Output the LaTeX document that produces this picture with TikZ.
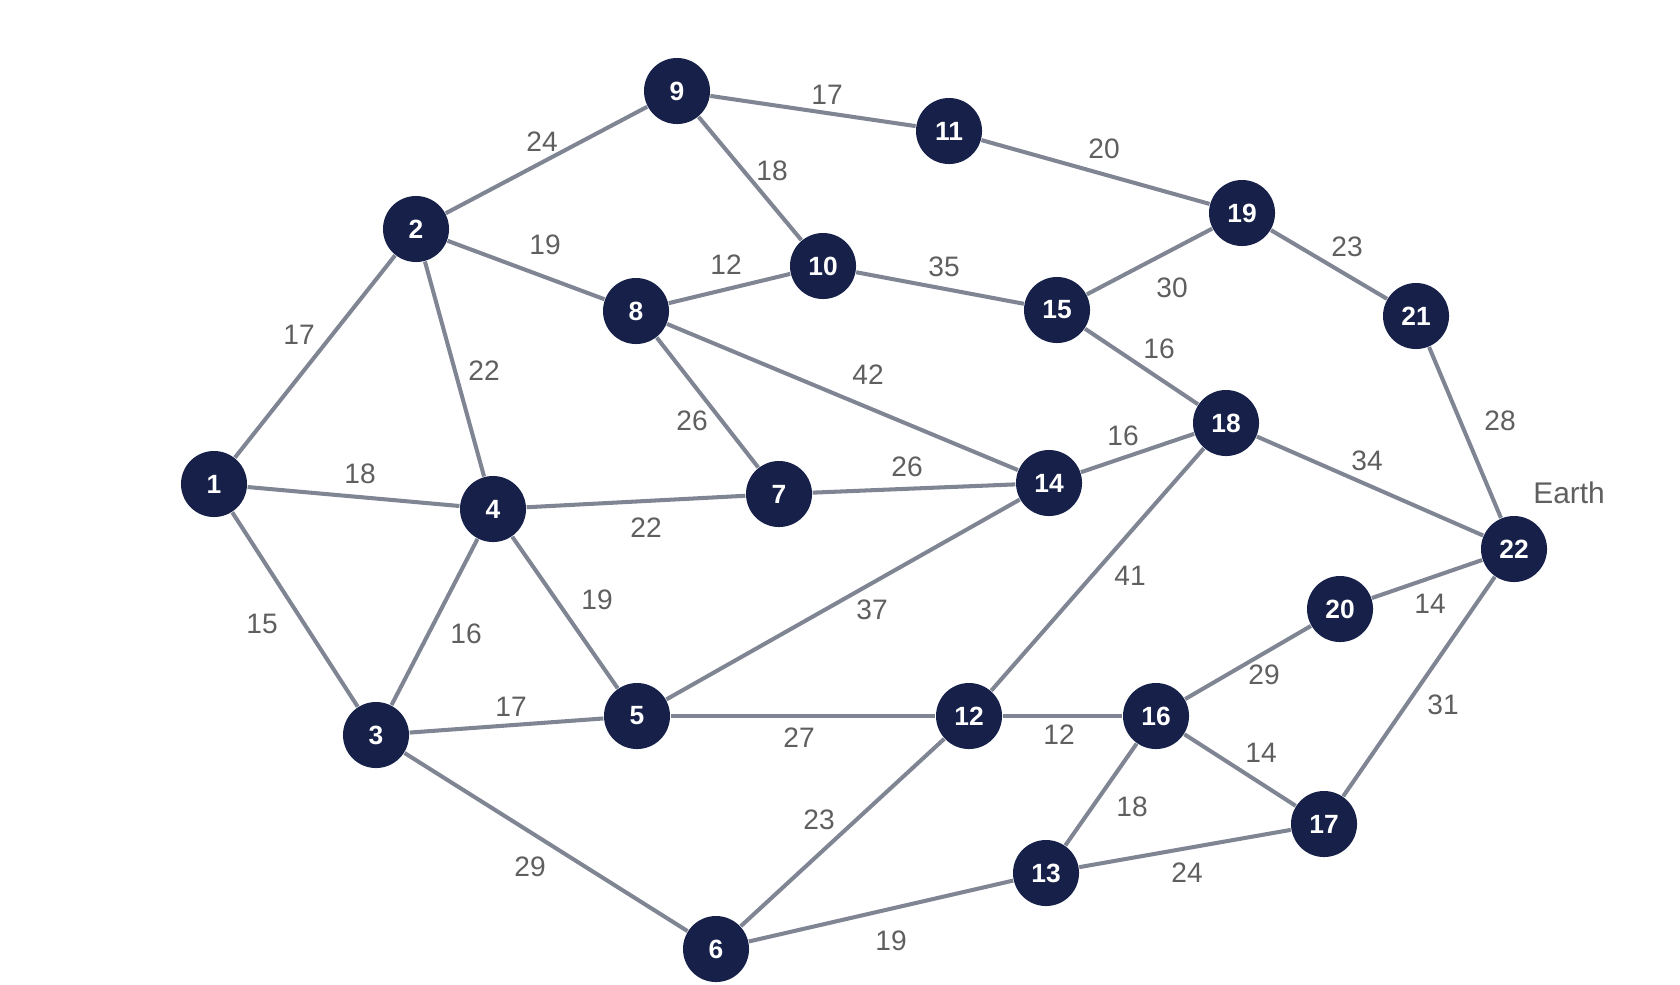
\documentclass[tikz,border=0pt]{standalone}
\usepackage{fontspec}
\setmainfont{Liberation Sans}
\usepackage{tikz}
\definecolor{nodenavy}{RGB}{22,32,72}
\definecolor{edgegray}{RGB}{128,133,148}
\definecolor{labelgray}{RGB}{95,95,95}
\tikzset{station/.style={circle,fill=nodenavy,text=white,minimum size=0.66cm,inner sep=0pt,
   font=\fontsize{7.5}{9}\selectfont\bfseries},
 link/.style={edgegray,line width=1.15pt},
 weight/.style={text=labelgray,font=\fontsize{8}{9}\selectfont,inner sep=1pt}}

\begin{document}
\begin{tikzpicture}[x=0.01cm,y=-0.01cm]
\useasboundingbox (0,0) rectangle (1680,984);
% stations
\foreach \n/\x/\y in {1/214/484,2/416/229,3/376/735,4/493/509,5/637/716,6/716/949,
  7/779/494,8/636/311,9/677/91,10/823/266,11/949/131,12/969/716,13/1046/873,
  14/1049/483,15/1057/310,16/1156/716,17/1324/824,18/1226/423,19/1242/213,
  20/1340/609,21/1416/316,22/1514/549}
  \node[station] (s\n) at (\x,\y) {\n};
% links with their weights
\foreach \a/\b/\w/\x/\y in {1/2/17/299/335,1/4/18/360/474,1/3/15/262/624,
  2/9/24/542/142,2/8/19/545/245,2/4/22/484/371,9/11/17/827/95,9/10/18/772/171,
  11/19/20/1104/149,8/10/12/726/265,10/15/35/944/267,19/15/30/1172/288,
  19/21/23/1347/247,8/7/26/692/421,8/14/42/868/375,15/18/16/1159/349,
  21/22/28/1500/421,14/18/16/1123/436,18/22/34/1367/461,4/7/22/646/528,
  7/14/26/907/467,4/5/19/597/600,5/14/37/872/610,18/12/41/1130/576,
  4/3/16/466/634,20/22/14/1430/604,16/20/29/1264/675,22/17/31/1443/705,
  3/5/17/511/707,5/12/27/799/738,12/16/12/1059/735,16/17/14/1261/753,
  16/13/18/1132/807,12/6/23/819/820,3/6/29/530/867,13/17/24/1187/873,
  6/13/19/891/941}
  {\draw[link] (s\a) -- (s\b);
   \node[weight] at (\x,\y) {\w};}
\node[weight,font=\fontsize{8.5}{10}\selectfont] (earth) at (1569,493) {Earth};
\end{tikzpicture}
\end{document}
